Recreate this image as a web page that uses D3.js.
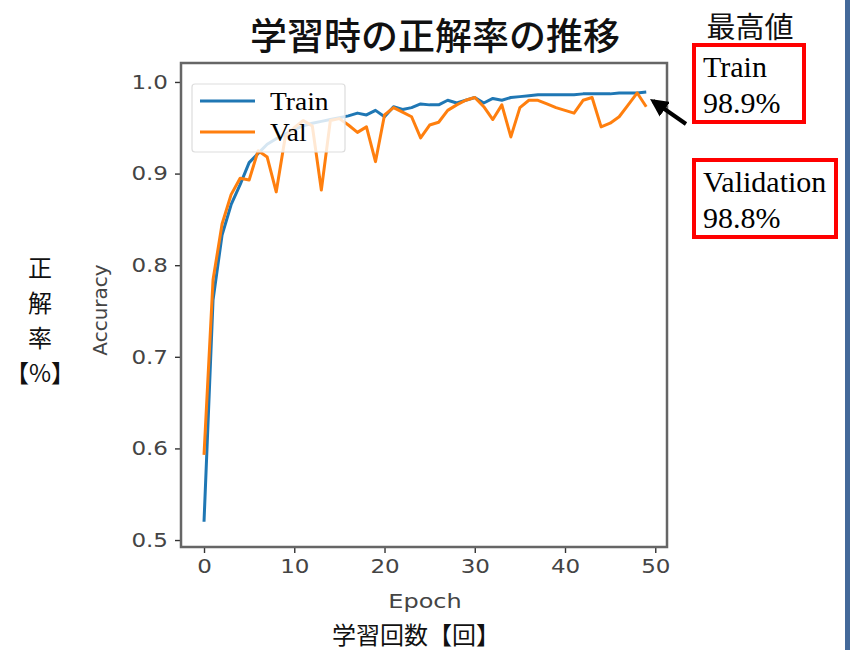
<!DOCTYPE html>
<html>
<head>
<meta charset="utf-8">
<script src="https://cdn.jsdelivr.net/npm/d3@7"></script>
<style>
  body { margin: 0; background: #fff; }
  svg { display: block; }
</style>
</head>
<body>
<svg id="chart" width="855" height="650"></svg>
<script>
const epochs = d3.range(0, 50);
const trainAcc = [0.520, 0.762, 0.833, 0.866, 0.888, 0.912, 0.922, 0.932, 0.938, 0.943,
  0.948, 0.952, 0.955, 0.957, 0.959, 0.961, 0.963, 0.966, 0.964, 0.969,
  0.962, 0.973, 0.970, 0.972, 0.976, 0.975, 0.975, 0.980, 0.977, 0.980,
  0.983, 0.977, 0.982, 0.980, 0.983, 0.984, 0.985, 0.986, 0.986, 0.986,
  0.986, 0.986, 0.987, 0.987, 0.987, 0.987, 0.988, 0.988, 0.988, 0.989];
const valAcc = [0.593, 0.784, 0.845, 0.877, 0.895, 0.893, 0.925, 0.918, 0.880, 0.940,
  0.950, 0.958, 0.952, 0.882, 0.958, 0.960, 0.953, 0.945, 0.951, 0.913,
  0.964, 0.972, 0.967, 0.962, 0.939, 0.953, 0.956, 0.969, 0.975, 0.980,
  0.983, 0.973, 0.959, 0.975, 0.940, 0.972, 0.980, 0.980, 0.976, 0.972,
  0.969, 0.966, 0.980, 0.983, 0.951, 0.955, 0.962, 0.975, 0.988, 0.973];
const xTicks = [0, 10, 20, 30, 40, 50];
const yTicks = [0.5, 0.6, 0.7, 0.8, 0.9, 1.0];
const seriesNames = ["Train", "Val"];
const seriesColors = ["#1f77b4", "#ff7f0e"];
const bestLabels = [["Train", "98.9%"], ["Validation", "98.8%"]];

const svg = d3.select("#chart");
const L = 181, R = 667, T = 63, B = 547;
const x = d3.scaleLinear().domain([-2.55, 51.3]).range([L, R]);
const y = d3.scaleLinear().domain([0.4924, 1.0207]).range([B, T]);

function stretch(sel, f) {
  sel.each(function() {
    const w = this.getComputedTextLength();
    d3.select(this).attr("textLength", w * f).attr("lengthAdjust", "spacingAndGlyphs");
  });
}

// right blue edge bar
svg.append("rect").attr("x", 845).attr("y", 0).attr("width", 5).attr("height", 650).attr("fill", "#44699a");

// title
svg.append("text").attr("x", 435).attr("y", 50).attr("text-anchor", "middle")
  .attr("font-family", "'Noto Sans CJK JP'").attr("font-size", 37).attr("font-weight", 500)
  .attr("fill", "#111").text("学習時の正解率の推移");

// axes
const axG = svg.append("g");
const xAxis = d3.axisBottom(x).tickValues(xTicks).tickFormat(d3.format("d")).tickSize(6).tickPadding(6);
const yAxis = d3.axisLeft(y).tickValues(yTicks).tickFormat(d3.format(".1f")).tickSize(6).tickPadding(7);
const gx = axG.append("g").attr("transform", `translate(0,${B})`).call(xAxis);
const gy = axG.append("g").attr("transform", `translate(${L},0)`).call(yAxis);
[gx, gy].forEach(g => {
  g.select(".domain").remove();
  g.selectAll(".tick line").attr("stroke", "#333").attr("stroke-width", 1.4);
  g.selectAll(".tick text").attr("font-family", "'DejaVu Sans'").attr("font-size", 20).attr("fill", "#444");
  stretch(g.selectAll(".tick text"), 1.15);
});

// lines
const line = d3.line().x((d, i) => x(epochs[i])).y(d => y(d));
[trainAcc, valAcc].forEach((arr, k) => {
  svg.append("path").datum(arr).attr("d", line).attr("fill", "none")
    .attr("stroke", seriesColors[k]).attr("stroke-width", 3).attr("stroke-linejoin", "round");
});

// frame
svg.append("rect").attr("x", L).attr("y", T).attr("width", R - L).attr("height", B - T)
  .attr("fill", "none").attr("stroke", "#666").attr("stroke-width", 2.5);

// legend
const lg = svg.append("g");
lg.append("rect").attr("x", 192).attr("y", 84).attr("width", 153).attr("height", 68).attr("rx", 3)
  .attr("fill", "#fff").attr("fill-opacity", 0.82).attr("stroke", "#ddd").attr("stroke-width", 1.2);
seriesNames.forEach((n, k) => {
  const yy = 101 + k * 31;
  lg.append("line").attr("x1", 200).attr("x2", 255).attr("y1", yy).attr("y2", yy)
    .attr("stroke", seriesColors[k]).attr("stroke-width", 2.8);
  const t = lg.append("text").attr("x", 270).attr("y", yy + 9).attr("font-family", "'Liberation Serif'")
    .attr("font-size", 25).attr("fill", "#000").text(n);
  stretch(t, 1.1);
});

// axis labels
svg.append("text").attr("transform", "translate(107,310) rotate(-90)").attr("text-anchor", "middle")
  .attr("font-family", "'DejaVu Sans'").attr("font-size", 20).attr("fill", "#444").text("Accuracy");
const ep = svg.append("text").attr("x", 425).attr("y", 608).attr("text-anchor", "middle")
  .attr("font-family", "'DejaVu Sans'").attr("font-size", 20).attr("fill", "#444").text("Epoch");
stretch(ep, 1.2);

// Japanese labels
svg.append("text").attr("x", 416).attr("y", 644).attr("text-anchor", "middle")
  .attr("font-family", "'Noto Sans CJK JP'").attr("font-size", 24).attr("fill", "#111").text("学習回数【回】");
["正", "解", "率", "【%】"].forEach((c, i) => {
  svg.append("text").attr("x", 40).attr("y", 277 + i * 35).attr("text-anchor", "middle")
    .attr("font-family", "'Noto Sans CJK JP'").attr("font-size", 24).attr("fill", "#111").text(c);
});

// best values annotation
svg.append("text").attr("x", 750).attr("y", 38).attr("text-anchor", "middle")
  .attr("font-family", "'Noto Sans CJK JP'").attr("font-size", 29).attr("fill", "#111").text("最高値");
const boxes = [{x: 694, y: 45, w: 110, h: 77}, {x: 694, y: 160, w: 142, h: 77}];
boxes.forEach((b, k) => {
  svg.append("rect").attr("x", b.x).attr("y", b.y).attr("width", b.w).attr("height", b.h)
    .attr("fill", "none").attr("stroke", "#ff0000").attr("stroke-width", 4);
  svg.append("text").attr("x", b.x + 9).attr("y", b.y + 32).attr("font-family", "'Liberation Serif'")
    .attr("font-size", 30).attr("fill", "#000").text(bestLabels[k][0]);
  svg.append("text").attr("x", b.x + 9).attr("y", b.y + 68).attr("font-family", "'Liberation Serif'")
    .attr("font-size", 30).attr("fill", "#000").text(bestLabels[k][1]);
});

// arrow
svg.append("defs").append("marker").attr("id", "ah").attr("viewBox", "0 0 10 10")
  .attr("refX", 8).attr("refY", 5).attr("markerWidth", 4.5).attr("markerHeight", 4.5).attr("orient", "auto")
  .append("path").attr("d", "M0,0 L10,5 L0,10 Z").attr("fill", "#000");
svg.append("line").attr("x1", 686).attr("y1", 124).attr("x2", 653).attr("y2", 101)
  .attr("stroke", "#000").attr("stroke-width", 4).attr("marker-end", "url(#ah)");
</script>
</body>
</html>
